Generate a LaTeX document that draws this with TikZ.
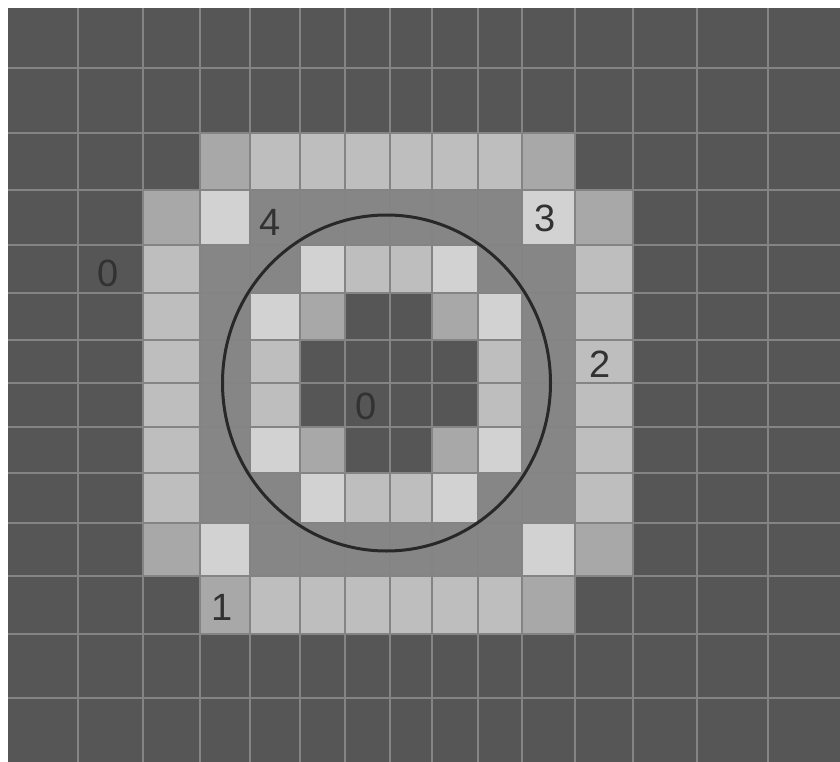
\documentclass[tikz,border=0pt]{standalone}
\usepackage{fontspec}
\setmainfont{Liberation Sans}
\definecolor{cD}{RGB}{86,86,86}
\definecolor{cM}{RGB}{134,134,134}
\definecolor{cS}{RGB}{168,168,168}
\definecolor{cL}{RGB}{190,190,190}
\definecolor{cV}{RGB}{210,210,210}
\definecolor{gridc}{RGB}{132,132,132}
\definecolor{digit}{RGB}{50,50,50}
\definecolor{ringc}{RGB}{40,40,40}
\begin{document}
\begin{tikzpicture}[x=1pt,y=-1pt,
  digitlabel/.style={font=\fontsize{38}{40}\selectfont, text=digit, inner sep=0pt},
  gridline/.style={draw=gridc, line width=1.3pt},
  ring/.style={draw=ringc, line width=3pt}]
\useasboundingbox (0,0) rectangle (840,762);
\fill[white] (0,0) rectangle (840,762);
\fill[cD] (8,8) rectangle (840,762);
\def\Xs{{8,78,143,200,250,300,345,390,432,478,522,575,633,697,768,840}}
\def\Ys{{8,68,133,190,245,293,340,383,427,473,523,576,634,698,762}}
\def\rowA{D,S,L,L,L,L,L,L,S,D}
\def\rowB{S,V,M,M,M,M,M,M,V,S}
\def\rowC{L,M,M,V,L,L,V,M,M,L}
\def\rowD{L,M,V,S,D,D,S,V,M,L}
\def\rowE{L,M,L,D,D,D,D,L,M,L}
\foreach \r/\rw in {2/\rowA,3/\rowB,4/\rowC,5/\rowD,6/\rowE,7/\rowE,8/\rowD,9/\rowC,10/\rowB,11/\rowA}{
  \edef\rowlist{\rw}
  \foreach \c [count=\i from 2] in \rowlist {
    \pgfmathsetmacro\xa{\Xs[\i]}
    \pgfmathsetmacro\xb{\Xs[\i+1]}
    \pgfmathsetmacro\ya{\Ys[\r]}
    \pgfmathsetmacro\yb{\Ys[\r+1]}
    \fill[c\c] (\xa,\ya) rectangle (\xb,\yb);
  }
}
\foreach \x in {78,143,200,250,300,345,390,432,478,522,575,633,697,768}
  \draw[gridline] (\x,8) -- (\x,762);
\foreach \y in {68,133,190,245,293,340,383,427,473,523,576,634,698}
  \draw[gridline] (8,\y) -- (840,\y);
\draw[ring] (386.5,383) ellipse [x radius=164, y radius=168];
\node[digitlabel] (zeroleft) at (108,273) {0};
\node[digitlabel] (zerocenter) at (366,406) {0};
\node[digitlabel] (four) at (270,222) {4};
\node[digitlabel] (three) at (545,218) {3};
\node[digitlabel] (two) at (600,364) {2};
\node[digitlabel] (one) at (222,607) {1};
\end{tikzpicture}
\end{document}
